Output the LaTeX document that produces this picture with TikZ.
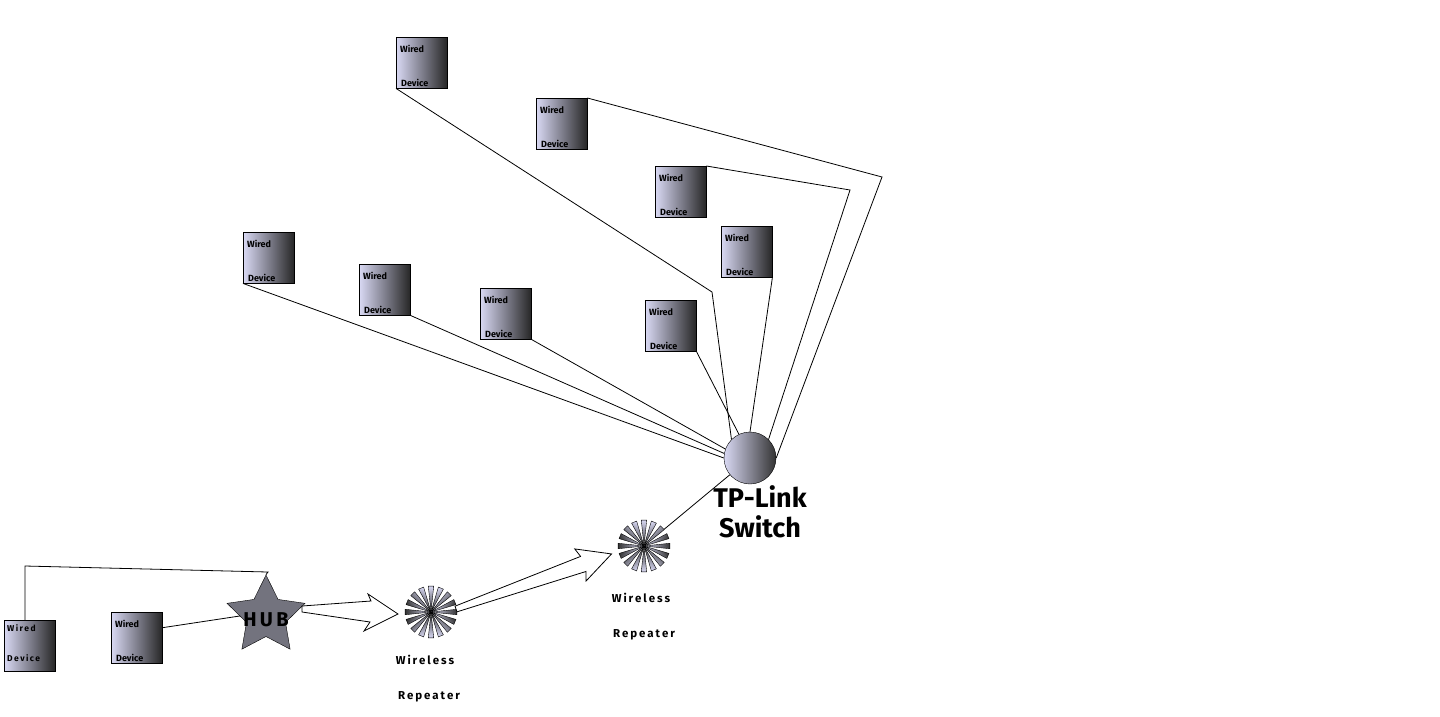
\documentclass[tikz,border=0pt]{standalone}
\usepackage{fontspec}
\setmainfont{Fira Sans}
\usetikzlibrary{shapes.geometric,calc}
\colorlet{lite}{gray!60!blue!25!white}
\colorlet{lite}{black!30!blue!15!white}
\begin{document}
\begin{tikzpicture}[x=1pt,y=-1pt,
  dev/.style={draw=black,minimum width=51pt,minimum height=51pt,anchor=north west,inner sep=0pt,
    left color=lite,right color=black!85,shading angle=90},
  dtxt/.style={font=\fontsize{9}{10}\selectfont\bfseries,anchor=west,inner sep=0pt},
  lbl/.style={font=\fontsize{11.5}{12}\selectfont\bfseries,inner sep=0pt},
  con/.style={draw=black,line width=0.8pt}]
\useasboundingbox (0,0) rectangle (1440,716);
% devices
\foreach \n/\x/\y in {A/396/37,B/536/98,C/655/166,D/721/226,E/243/232,F/359/264,G/480/288,H/645/300,J/111/612}{
  \node[dev] (\n) at (\x,\y) {};
  \node[dtxt] at (\x+4,\y+12) {Wired};
  \node[dtxt] at (\x+5,\y+46) {Device};
}
\node[dev] (I) at (4,620) {};
\node[lbl,anchor=west,font=\fontsize{8.5}{10}\selectfont\bfseries] at (7,628) {W\,i\,r\,e\,d};
\node[lbl,anchor=west,font=\fontsize{8.5}{10}\selectfont\bfseries] at (7,658) {D\,e\,v\,i\,c\,e};
% switch
\node[circle,draw=black,minimum size=52pt,left color=lite,right color=black!80,shading angle=90] (S) at (750,458) {};
\node[font=\fontsize{27}{30}\selectfont\bfseries,align=center,inner sep=0pt] (SL) at (760,512) {TP-Link\\Switch};
% connectors to switch
\coordinate (a1) at (712,292); \coordinate (b1) at (882,177); \coordinate (c1) at (850,190);
\draw[con] (A.south west) -- (a1) -- (S.north west);
\draw[con] (B.north east) -- (b1) -- (S.east);
\draw[con] (C.north east) -- (c1) -- (S.north east);
\draw[con] (D.south east) -- (S.north);
\draw[con] (E.south west) -- (S.west);
\draw[con] (F.south east) -- (S.170);
\draw[con] (G.south east) -- (S.160);
\draw[con] (H.south east) -- (S.115);
% repeaters
\foreach \n/\x/\y in {R1/431/612,R2/644/546}{
  \node[circle,minimum size=52pt,inner sep=0pt] (\n) at (\x,\y) {};
  \foreach \a in {0,22.5,...,340}{
    \draw[black,line width=0.4pt,left color=lite,right color=black!80,shading angle=\a+90] (\x,\y) -- ++(\a-6:26) arc[start angle=\a-6,end angle=\a+6,radius=26] -- cycle;
  }
}
\draw[con] (R2) -- (S);
\node[lbl] at (425,660) {W\,i\,r\,e\,l\,e\,s\,s};
\node[lbl] at (429,697) {R\,e\,p\,e\,a\,t\,e\,r};
\node[lbl] at (641,598) {W\,i\,r\,e\,l\,e\,s\,s};
\node[lbl] at (644,635) {R\,e\,p\,e\,a\,t\,e\,r};
% hub
\node[star,star points=5,star point ratio=2.0,draw=black,fill=black!55!blue!10!gray,minimum size=82pt,inner sep=0pt] (HUB) at (266,616) {};
\node[font=\fontsize{20}{22}\selectfont\bfseries] at (266,620) {H\,U\,B};
\coordinate (h1) at (25,566); \coordinate (h2) at (268,572);
\draw[con] (I.north west) ++(21,0) coordinate (i1) -- (h1) -- (h2) -- (HUB.north);
\draw[con] (J.east) ++(0,-10) coordinate (j1) -- (HUB.west);
% hollow arrows
\draw[line width=0.8pt,fill=white] (302,606) -- (371,601) -- (368,594) -- (398,614) -- (364,631) -- (370,622) -- (302,612) -- cycle;
\begin{scope}[shift={(456,609)},rotate=19.5]
\draw[line width=0.8pt,fill=white] (0,-3) -- (135,-8) -- (132,-17) -- (165,0) -- (132,17) -- (135,8) -- (0,3) -- cycle;
\end{scope}
\end{tikzpicture}
\end{document}
